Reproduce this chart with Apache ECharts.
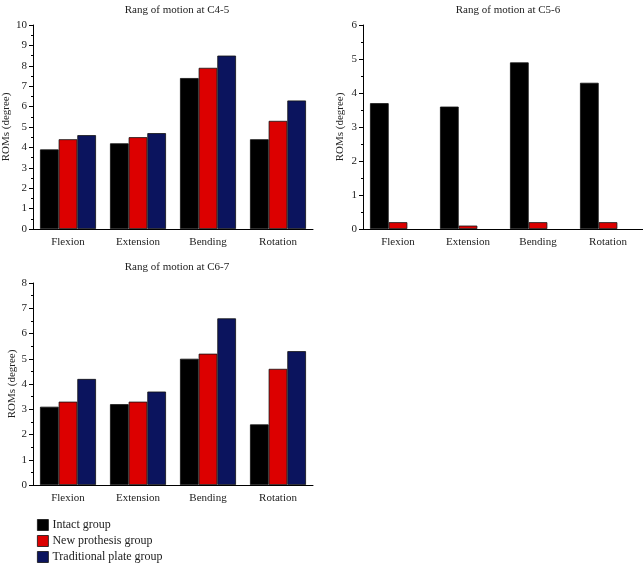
<!DOCTYPE html>
<html>
<head>
<meta charset="utf-8">
<script src="https://cdn.jsdelivr.net/npm/echarts@6/dist/echarts.min.js"></script>
<style>html,body{margin:0;padding:0;background:#fff}#c{width:643px;height:564px}</style>
</head>
<body>
<div id="c"></div>
<script>
const categories = ['Flexion', 'Extension', 'Bending', 'Rotation'];
const seriesNames = ['Intact group', 'New prothesis group', 'Traditional plate group'];
const c45Intact = [3.9, 4.2, 7.4, 4.4];
const c45New = [4.4, 4.5, 7.9, 5.3];
const c45Trad = [4.6, 4.7, 8.5, 6.3];
const c56Intact = [3.7, 3.6, 4.9, 4.3];
const c56New = [0.2, 0.1, 0.2, 0.2];
const c56Trad = [null, null, null, null];
const c67Intact = [3.1, 3.2, 5.0, 2.4];
const c67New = [3.3, 3.3, 5.2, 4.6];
const c67Trad = [4.2, 3.7, 6.6, 5.3];
const titles = ['Rang of motion at C4-5', 'Rang of motion at C5-6', 'Rang of motion at C6-7'];
const yMax = [10, 6, 8];

const colors = ['#000000', '#dc0000', '#0b145e'];
const font = 'Liberation Serif';
const grids = [
  {left: 33, top: 25, width: 280, height: 204, outerBoundsMode: 'none', containLabel: false},
  {left: 363, top: 25, width: 280, height: 204, outerBoundsMode: 'none', containLabel: false},
  {left: 33, top: 283, width: 280, height: 202, outerBoundsMode: 'none', containLabel: false}
];
const nameGaps = [20, 14, 17];
const nameOrder = [0, 2, 1];
const data = [[c45Intact, c45New, c45Trad], [c56Intact, c56New, c56Trad], [c67Intact, c67New, c67Trad]];

const xAxis = [], yAxis = [], series = [];
for (let i = 0; i < 3; i++) {
  xAxis.push({
    type: 'category', gridIndex: i, data: categories,
    axisLine: {lineStyle: {color: '#000', width: 1}},
    axisTick: {alignWithLabel: true, length: 4, lineStyle: {color: '#000'}},
    axisLabel: {fontFamily: font, fontSize: 11, color: '#222', margin: 8}
  });
  yAxis.push({
    type: 'value', gridIndex: i, min: 0, max: yMax[i], interval: 1,
    name: 'ROMs (degree)', nameLocation: 'middle',
    nameGap: i === 0 ? 20 : (i === 1 ? 17 : 14),
    nameTextStyle: {fontFamily: font, fontSize: 11, color: '#222'},
    axisLine: {show: true, lineStyle: {color: '#000', width: 1}},
    axisTick: {show: true, length: 4, lineStyle: {color: '#000'}},
    minorTick: {show: true, splitNumber: 2, length: 2, lineStyle: {color: '#000'}},
    splitLine: {show: false},
    axisLabel: {fontFamily: font, fontSize: 11, color: '#222', margin: 6}
  });
  for (let s = 0; s < 3; s++) {
    series.push({
      type: 'bar', name: seriesNames[s], xAxisIndex: i, yAxisIndex: i,
      data: data[i][s], barGap: '0%', barCategoryGap: '20%',
      itemStyle: {color: colors[s], borderColor: '#111', borderWidth: 0.8},
      emphasis: {disabled: true}
    });
  }
}

const legendTops = [519, 535, 551];
const legends = seriesNames.map((n, k) => ({
  data: [n], left: 37, top: legendTops[k], orient: 'vertical',
  icon: 'rect', itemWidth: 11, itemHeight: 11, itemGap: 4,
  itemStyle: {borderColor: '#111', borderWidth: 0.8},
  textStyle: {fontFamily: font, fontSize: 12, color: '#222', padding: [0, 0, 0, -1]},
  selectedMode: false, padding: 0
}));

const chart = echarts.init(document.getElementById('c'));
chart.setOption({
  animation: false,
  color: colors,
  title: [
    {text: titles[0], left: 172, top: 0, textAlign: 'center', textStyle: {fontFamily: font, fontSize: 11, fontWeight: 'normal', color: '#222'}},
    {text: titles[1], left: 503, top: 0, textAlign: 'center', textStyle: {fontFamily: font, fontSize: 11, fontWeight: 'normal', color: '#222'}},
    {text: titles[2], left: 172, top: 257, textAlign: 'center', textStyle: {fontFamily: font, fontSize: 11, fontWeight: 'normal', color: '#222'}}
  ],
  grid: grids,
  xAxis: xAxis,
  yAxis: yAxis,
  legend: legends,
  series: series
});
</script>
</body>
</html>
